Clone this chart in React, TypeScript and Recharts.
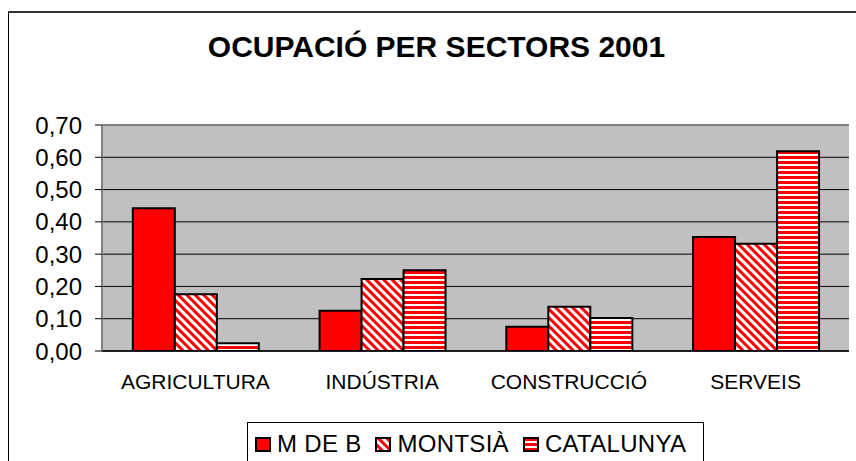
import React from 'react';
import { BarChart, Bar, XAxis, YAxis, CartesianGrid, Legend, ReferenceLine } from 'recharts';

const categories = ['AGRICULTURA', 'INDÚSTRIA', 'CONSTRUCCIÓ', 'SERVEIS'];
const mDeB = [0.442, 0.125, 0.075, 0.353];
const montsia = [0.176, 0.223, 0.137, 0.332];
const catalunya = [0.024, 0.25, 0.102, 0.619];
const yTicks = [0, 0.1, 0.2, 0.3, 0.4, 0.5, 0.6, 0.7];
const boundaryTicks = [0, 1, 2, 3, 4];
const seriesKeys = ['mdeb', 'montsia', 'catalunya'];
const seriesNames = ['M DE B', 'MONTSIÀ', 'CATALUNYA'];
const title = 'OCUPACIÓ PER SECTORS 2001';

const data = categories.map((c, i) => ({
  name: c,
  mdeb: mDeB[i],
  montsia: montsia[i],
  catalunya: catalunya[i],
}));

const FONT = '"Liberation Sans", Arial, sans-serif';

const fillFor: Record<string, string> = {
  mdeb: '#FF0000',
  montsia: 'url(#diagRed)',
  catalunya: 'url(#horizRed)',
};

function LegendMarker({ dataKey }: { dataKey: string }) {
  const id = 'lg-' + dataKey;
  let fill = '#FF0000';
  let defs: React.ReactNode = null;
  if (dataKey === 'montsia') {
    fill = `url(#${id})`;
    defs = (
      <pattern id={id} patternUnits="userSpaceOnUse" width="6" height="6" patternTransform="rotate(-45)">
        <rect width="6" height="6" fill="#fff" />
        <rect width="3" height="6" fill="#FF0000" />
      </pattern>
    );
  } else if (dataKey === 'catalunya') {
    fill = `url(#${id})`;
    defs = (
      <pattern id={id} patternUnits="userSpaceOnUse" width="10" height="5">
        <rect width="10" height="5" fill="#fff" />
        <rect y="1" width="10" height="3" fill="#FF0000" />
      </pattern>
    );
  }
  return (
    <svg width="16" height="15" style={{ display: 'block' }}>
      <defs>{defs}</defs>
      <rect x="1" y="1" width="14" height="13" fill={fill} stroke="#000" strokeWidth="2" />
    </svg>
  );
}

function renderLegend(props: any) {
  const payload = [...(props.payload || [])].sort(
    (a: any, b: any) => seriesKeys.indexOf(String(a.dataKey)) - seriesKeys.indexOf(String(b.dataKey))
  );
  return (
    <div style={{ display: 'flex', alignItems: 'center', paddingLeft: 7, paddingTop: 9 }}>
      {payload.map((p: any, i: number) => (
        <div key={i} style={{ display: 'flex', alignItems: 'center', marginRight: 14 }}>
          <LegendMarker dataKey={String(p.dataKey)} />
          <span style={{ marginLeft: 6, fontSize: 24, fontFamily: FONT, color: '#000', letterSpacing: 0.3, lineHeight: '24px' }}>
            {p.value}
          </span>
        </div>
      ))}
    </div>
  );
}

const fmt = (v: number) => v.toFixed(2).replace('.', ',');

export default function App() {
  return (
    <div style={{ position: 'absolute', left: 0, top: 0, width: 856, height: 461, overflow: 'hidden', background: '#fff' }}>
      <div
        style={{
          position: 'absolute',
          left: 8,
          top: 11,
          right: 0,
          bottom: 0,
          borderTop: '2px solid #333',
          borderLeft: '1px solid #000',
        }}
      />
      <div
        style={{
          position: 'absolute',
          left: 0,
          width: 873,
          top: 32,
          textAlign: 'center',
          fontFamily: FONT,
          fontWeight: 'bold',
          fontSize: 30,
          lineHeight: '30px',
          color: '#000',
          whiteSpace: 'nowrap',
        }}
      >
        {title}
      </div>
      <div style={{ position: 'absolute', left: 0, top: 0 }}>
        <BarChart
          width={856}
          height={461}
          data={data}
          margin={{ top: 125, right: 7, left: 0, bottom: 70 }}
          barCategoryGap="16.5%"
          barGap={0}
        >
          <defs>
            <pattern id="diagRed" patternUnits="userSpaceOnUse" width="6" height="6" patternTransform="rotate(-45)">
              <rect width="6" height="6" fill="#fff" />
              <rect width="3" height="6" fill="#FF0000" />
            </pattern>
            <pattern id="horizRed" patternUnits="userSpaceOnUse" width="10" height="5">
              <rect width="10" height="5" fill="#fff" />
              <rect y="1" width="10" height="3" fill="#FF0000" />
            </pattern>
          </defs>
          <CartesianGrid vertical={false} stroke="#000" strokeWidth={1} fill="#C0C0C0" fillOpacity={1} />
          <XAxis
            xAxisId="b"
            type="number"
            domain={[0, 4]}
            ticks={boundaryTicks}
            tick={false}
            tickSize={6}
            tickLine={{ stroke: '#000', strokeWidth: 1 }}
            axisLine={false}
            height={0}
            allowDataOverflow
          />
          <XAxis
            dataKey="name"
            tickLine={false}
            tickSize={6}
            tickMargin={17}
            axisLine={{ stroke: '#000', strokeWidth: 1.5 }}
            tick={{ fill: '#000', fontSize: 21, fontFamily: FONT }}
            height={40}
            interval={0}
          />
          <YAxis
            width={102}
            domain={[0, 0.7]}
            ticks={yTicks}
            tickFormatter={fmt}
            tickSize={7}
            tickMargin={13}
            tickLine={{ stroke: '#000', strokeWidth: 1 }}
            axisLine={{ stroke: '#808080', strokeWidth: 2 }}
            tick={{ fill: '#000', fontSize: 24, fontFamily: FONT }}
            allowDataOverflow
          />
          <ReferenceLine y={0.7} stroke="#808080" strokeWidth={2} />
          <ReferenceLine x={4} xAxisId="b" stroke="#808080" strokeWidth={2} />
          <Bar dataKey="mdeb" name={seriesNames[0]} fill={fillFor.mdeb} stroke="#000" strokeWidth={2} isAnimationActive={false} />
          <Bar dataKey="montsia" name={seriesNames[1]} fill={fillFor.montsia} stroke="#000" strokeWidth={2} isAnimationActive={false} />
          <Bar dataKey="catalunya" name={seriesNames[2]} fill={fillFor.catalunya} stroke="#000" strokeWidth={2} isAnimationActive={false} />
          <Legend
            layout="horizontal"
            verticalAlign="middle"
            align="center"
            content={renderLegend}
            wrapperStyle={{
              left: 247,
              top: 422,
              width: 457,
              height: 39,
              border: '1px solid #000',
              borderBottom: 'none',
              background: '#fff',
              boxSizing: 'border-box',
            }}
          />
        </BarChart>
      </div>
    </div>
  );
}
